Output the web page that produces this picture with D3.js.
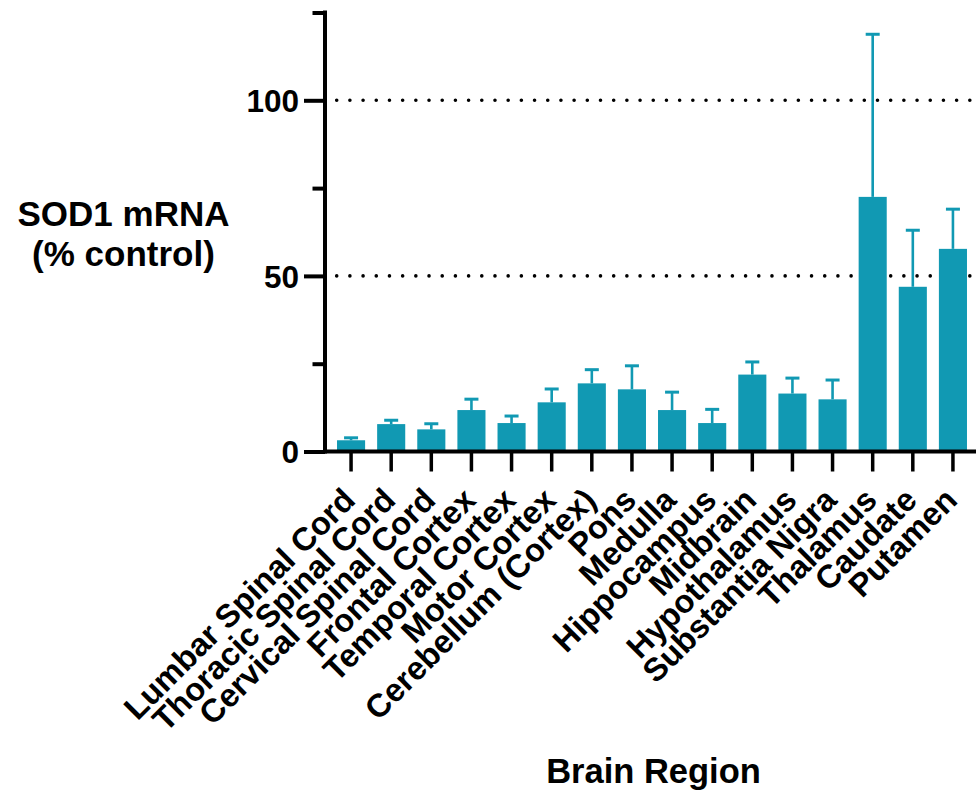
<!DOCTYPE html>
<html>
<head>
<meta charset="utf-8">
<script src="https://cdn.jsdelivr.net/npm/d3@7"></script>
<style>
  html, body { margin: 0; padding: 0; background: #fff; }
  svg { display: block; font-family: "Liberation Sans", Arial, Helvetica, sans-serif; font-weight: bold; }
</style>
</head>
<body>
<svg id="chart" width="976" height="791"></svg>
<script>
// SOD1 mRNA knockdown by brain region (% of control), mean with upper error bar
const regions = [
  "Lumbar Spinal Cord", "Thoracic Spinal Cord", "Cervical Spinal Cord",
  "Frontal Cortex", "Temporal Cortex", "Motor Cortex", "Cerebellum (Cortex)",
  "Pons", "Medulla", "Hippocampus", "Midbrain", "Hypothalamus",
  "Substantia Nigra", "Thalamus", "Caudate", "Putamen"
];
const meanValues = [3.2, 7.8, 6.3, 11.8, 8.1, 14.0, 19.4, 17.7, 11.8, 8.1, 21.9, 16.5, 14.85, 72.5, 46.9, 57.7];
const errorValues = [0.7, 1.1, 1.6, 3.1, 2.0, 3.8, 3.9, 6.7, 5.1, 3.9, 3.6, 4.4, 5.5, 46.3, 16.1, 11.3];
const yTicks = [0, 25, 50, 75, 100, 125];
const yLabeled = [0, 50, 100];
const gridValues = [50, 100];

const barColor = "#1199b3";
const svg = d3.select("#chart");

const axisX = 325;
const y = d3.scaleLinear().domain([0, 125]).range([451.5, 12.5]);
const x = d3.scaleBand().domain(regions).range([331, 973]).paddingInner(0.3).paddingOuter(0.15);

// dotted reference lines behind the bars
svg.append("g").selectAll("line").data(gridValues).join("line")
  .attr("x1", 336.7).attr("x2", 976)
  .attr("y1", d => y(d)).attr("y2", d => y(d))
  .attr("stroke", "#000").attr("stroke-width", 3.6)
  .attr("stroke-linecap", "round")
  .attr("stroke-dasharray", "0 13.19");

// bars
svg.append("g").selectAll("rect").data(regions).join("rect")
  .attr("x", d => x(d))
  .attr("width", x.bandwidth())
  .attr("y", (d, i) => y(meanValues[i]))
  .attr("height", (d, i) => y(0) - y(meanValues[i]))
  .attr("fill", barColor);

// error bars (upper)
const eb = svg.append("g").attr("stroke", barColor).attr("fill", "none");
regions.forEach((d, i) => {
  const cx = x(d) + x.bandwidth() / 2;
  const top = y(meanValues[i] + errorValues[i]);
  eb.append("line").attr("x1", cx).attr("x2", cx)
    .attr("y1", y(meanValues[i])).attr("y2", top).attr("stroke-width", 2.6);
  eb.append("line").attr("x1", cx - 7).attr("x2", cx + 7)
    .attr("y1", top).attr("y2", top).attr("stroke-width", 3);
});

// y axis
const yAxis = svg.append("g")
  .attr("transform", `translate(${axisX},0)`)
  .call(d3.axisLeft(y).tickValues(yTicks).tickSize(21).tickPadding(5)
    .tickFormat(d => yLabeled.includes(d) ? d : ""));
yAxis.select(".domain").remove();
yAxis.selectAll(".tick line")
  .attr("stroke", "#000").attr("stroke-width", 4)
  .attr("x2", d => yLabeled.includes(d) ? -21 : -12.5);
yAxis.selectAll(".tick text")
  .attr("fill", "#000").attr("font-size", 31.5).attr("font-weight", "bold")
  .attr("font-family", "Liberation Sans, Arial, sans-serif")
  .attr("dy", "0.36em");
svg.append("line")
  .attr("x1", axisX).attr("x2", axisX)
  .attr("y1", y(125) - 2).attr("y2", y(0) + 2)
  .attr("stroke", "#000").attr("stroke-width", 4);

// x axis
const xAxis = svg.append("g")
  .attr("transform", `translate(0,${y(0)})`)
  .call(d3.axisBottom(x).tickSize(20).tickFormat(""));
xAxis.select(".domain").remove();
xAxis.selectAll(".tick line").attr("stroke", "#000").attr("stroke-width", 3.5);
svg.append("line")
  .attr("x1", axisX - 2).attr("x2", 976)
  .attr("y1", y(0)).attr("y2", y(0))
  .attr("stroke", "#000").attr("stroke-width", 4.2);

// rotated category labels
svg.append("g").selectAll("text").data(regions).join("text")
  .attr("transform", d => `translate(${x(d) + x.bandwidth() / 2 + 6},502) rotate(-45)`)
  .attr("text-anchor", "end")
  .attr("font-size", 32.5)
  .attr("fill", "#000")
  .text(d => d);

// axis titles
const yTitle = svg.append("text").attr("text-anchor", "middle").attr("font-size", 35).attr("fill", "#000");
yTitle.append("tspan").attr("x", 123.5).attr("y", 226).text("SOD1 mRNA");
yTitle.append("tspan").attr("x", 123.5).attr("y", 266).text("(% control)");

svg.append("text")
  .attr("x", 653.5).attr("y", 783)
  .attr("text-anchor", "middle").attr("font-size", 34.5).attr("fill", "#000")
  .text("Brain Region");
</script>
</body>
</html>
